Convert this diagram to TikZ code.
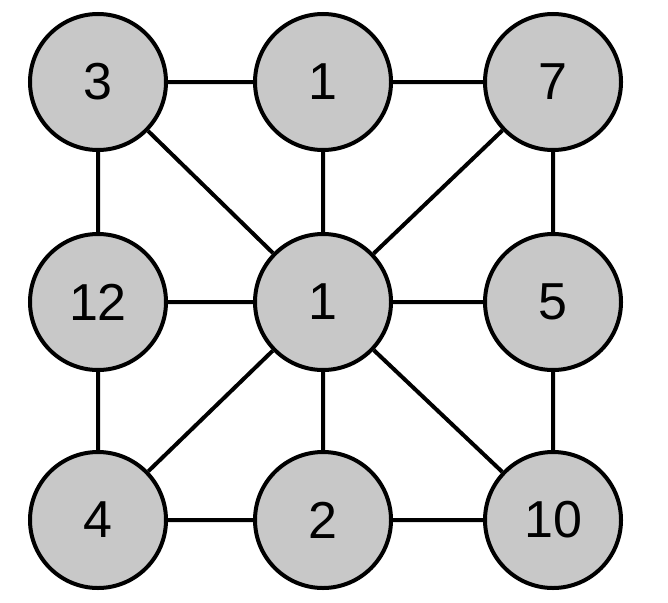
\documentclass[tikz,border=0pt]{standalone}
\usepackage{fontspec}
\setmainfont{Liberation Sans}
\begin{document}
\begin{tikzpicture}[x=1pt,y=-1pt,
  v/.style={circle,draw=black,line width=4pt,fill=gray!20!white!80!black,fill={rgb,255:red,200;green,200;blue,200},minimum size=136pt,inner sep=0pt,font=\fontsize{52}{60}\selectfont},
  e/.style={line width=4pt}]
\useasboundingbox (0,0) rectangle (668,602);
\node[v] (a) at (98,82) {3};
\node[v] (b) at (323,82) {1};
\node[v] (c) at (553,82) {7};
\node[v] (d) at (98,302) {12};
\node[v] (m) at (323,302) {1};
\node[v] (f) at (553,302) {5};
\node[v] (g) at (98,520) {4};
\node[v] (h) at (323,520) {2};
\node[v] (i) at (553,520) {10};
\begin{scope}[on background layer/.style={}]
\end{scope}
\draw[e] (a)--(b) (b)--(c) (d)--(m) (m)--(f) (g)--(h) (h)--(i)
  (a)--(d) (d)--(g) (b)--(m) (m)--(h) (c)--(f) (f)--(i)
  (a)--(m) (c)--(m) (g)--(m) (i)--(m);
\end{tikzpicture}
\end{document}
